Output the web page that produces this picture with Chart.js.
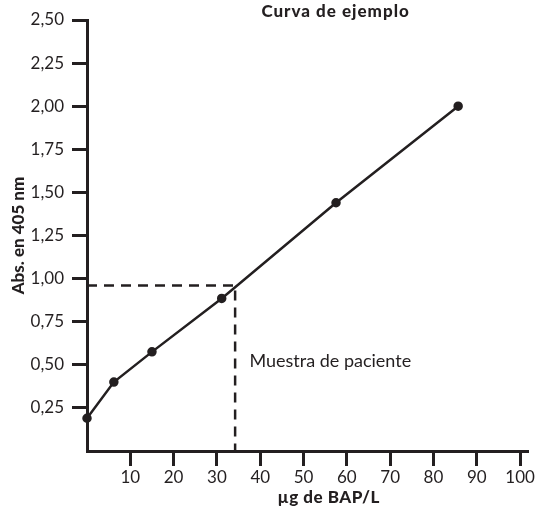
<!DOCTYPE html>
<html>
<head>
<meta charset="utf-8">
<script src="https://cdn.jsdelivr.net/npm/chart.js@4/dist/chart.umd.min.js"></script>
<style>
  html,body{margin:0;padding:0;background:#fff;}
  #wrap{width:536px;height:510px;position:relative;}
</style>
</head>
<body>
<div id="wrap"><canvas id="c"></canvas></div>
<script>
(function(){
  'use strict';
  // datos
  const conc   = [0, 6.2, 15.0, 31.1, 57.5, 85.7];      // µg de BAP/L
  const absorb = [0.19, 0.40, 0.575, 0.885, 1.44, 2.00]; // Abs. 405 nm
  const muestraX = 34.2, muestraY = 0.96;
  const xTicks = [10,20,30,40,50,60,70,80,90,100];
  const yTicks = [0.25,0.5,0.75,1,1.25,1.5,1.75,2,2.25,2.5];

  const INK = '#231f20';
  const FONT = 'Lato, "DejaVu Sans", sans-serif';
  Chart.defaults.font.family = FONT;
  Chart.defaults.color = INK;

  // textos libres: título, etiqueta del eje x y anotación
  const textos = {
    id:'textos',
    afterDraw(chart){
      const {ctx, scales:{x,y}} = chart;
      ctx.save();
      ctx.fillStyle = INK;
      ctx.textBaseline = 'middle';
      ctx.textAlign = 'center';
      ctx.letterSpacing = '1px';
      ctx.font = '900 17px ' + FONT;
      ctx.fillText('Curva de ejemplo', x.getPixelForValue(57.4), 12);
      ctx.letterSpacing = '0.5px';
      ctx.fillText('µg de BAP/L', x.getPixelForValue(55.8), 498);
      ctx.letterSpacing = '0px';
      ctx.textAlign = 'left';
      ctx.font = '18px ' + FONT;
      ctx.fillText('Muestra de paciente', x.getPixelForValue(37.5), y.getPixelForValue(0.52));
      ctx.restore();
    }
  };

  const tickCol = c => c.tick && c.tick.value === 0 ? 'rgba(0,0,0,0)' : INK;

  new Chart(document.getElementById('c'), {
    type:'scatter',
    data:{datasets:[
      {label:'Curva', data: conc.map((v,i)=>({x:v, y:absorb[i]})), showLine:true, clip:false,
       borderColor:INK, backgroundColor:INK, borderWidth:2.5, pointRadius:3.5, pointHoverRadius:3.5, tension:0},
      {label:'Muestra', data:[{x:0,y:muestraY},{x:muestraX,y:muestraY},{x:muestraX,y:0}], showLine:true,
       borderColor:INK, borderWidth:2.5, borderDash:[10,7], pointRadius:0, tension:0}
    ]},
    options:{
      responsive:true, maintainAspectRatio:false, animation:false,
      layout:{padding:{top:20, right:6, left:0, bottom:0}},
      plugins:{legend:{display:false}, tooltip:{enabled:false}},
      scales:{
        x:{type:'linear', min:0, max:102,
          border:{display:true, color:INK, width:3},
          grid:{drawOnChartArea:false, drawTicks:true, tickLength:15, tickWidth:3, tickColor:tickCol},
          afterBuildTicks: s => { s.ticks = xTicks.map(v=>({value:v})); },
          afterFit: s => { s.height = 59; },
          ticks:{font:{size:17}, color:INK, padding:1, maxRotation:0, callback:v=>String(v)}
        },
        y:{type:'linear', min:0, max:2.5,
          border:{display:true, color:INK, width:3},
          grid:{drawOnChartArea:false, drawTicks:true, tickLength:15, tickWidth:3, tickColor:tickCol},
          afterBuildTicks: s => { s.ticks = yTicks.map(v=>({value:v})); },
          afterFit: s => { s.width = 87; },
          ticks:{font:{size:17}, color:INK, padding:8, callback:v=>v.toFixed(2).replace('.',',')},
          title:{display:true, text:'Abs. en 405 nm', font:{size:17, weight:'900'}, color:INK, padding:{top:8, bottom:0}}
        }
      }
    },
    plugins:[textos]
  });
})();
</script>
</body>
</html>
